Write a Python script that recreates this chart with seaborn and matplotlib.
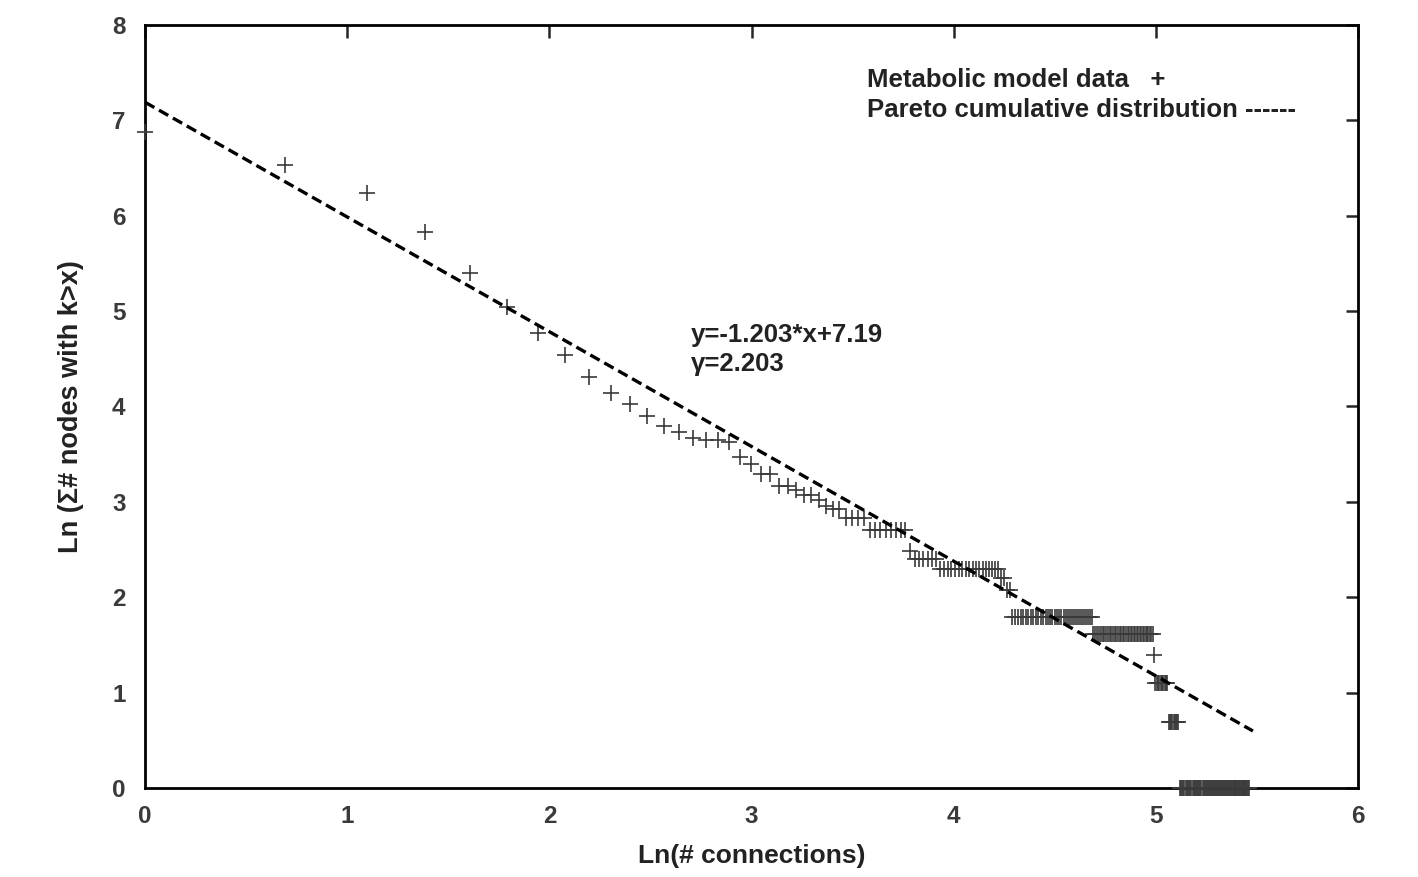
import numpy as np
import pandas as pd
import matplotlib
matplotlib.use("Agg")
import matplotlib.pyplot as plt
import seaborn as sns

# ---- data ----
# runs of integer degrees k (first..last) and the Ln(cumulative node count) at that run
run_first_k = [1, 2, 3, 4, 5, 6, 7, 8, 9, 10, 11, 12, 13, 14, 15, 16, 17, 18, 19, 20,
               21, 22, 23, 24, 25, 26, 27, 28, 29, 30, 32, 36, 44, 45, 51, 69, 71, 73,
               109, 147, 148, 158, 167]
run_last_k = [1, 2, 3, 4, 5, 6, 7, 8, 9, 10, 11, 12, 13, 14, 15, 16, 17, 18, 19, 20,
              21, 22, 23, 24, 25, 26, 27, 28, 29, 31, 35, 43, 44, 50, 68, 70, 72, 108,
              146, 147, 157, 166, 235]
run_ln_count = [6.88, 6.53, 6.24, 5.83, 5.40, 5.04, 4.77, 4.54, 4.31, 4.14, 4.03, 3.90,
                3.80, 3.73, 3.67, 3.65, 3.65, 3.63, 3.47, 3.40, 3.29, 3.29, 3.17, 3.17,
                3.12, 3.07, 3.07, 3.02, 2.96, 2.93, 2.83, 2.71, 2.48, 2.40, 2.30, 2.20,
                2.08, 1.79, 1.61, 1.39, 1.10, 0.69, 0.00]

fit_slope = -1.203
fit_intercept = 7.19
fit_x_range = [0.0, 5.48]

x_ticks = [0, 1, 2, 3, 4, 5, 6]
y_ticks = [0, 1, 2, 3, 4, 5, 6, 7, 8]

# ---- build table ----
rows = []
for k0, k1, yv in zip(run_first_k, run_last_k, run_ln_count):
    for k in range(k0, k1 + 1):
        rows.append({"ln_k": np.log(k), "ln_n": yv})
df = pd.DataFrame(rows)
fit_df = pd.DataFrame({"x": fit_x_range,
                       "y": [fit_slope * v + fit_intercept for v in fit_x_range]})

sns.set_style("white")
plt.rcParams['font.family'] = ['Liberation Sans', 'DejaVu Sans']

fig = plt.figure(figsize=(14.18, 8.77), dpi=100)
ax = fig.add_axes([0.1023, 0.1015, 0.8554, 0.870])

sns.scatterplot(data=df, x="ln_k", y="ln_n", marker="+", s=130, color="#3a3a3a",
                linewidth=1.2, ax=ax, legend=False, zorder=3, clip_on=False)
sns.lineplot(data=fit_df, x="x", y="y", color="black", linewidth=2.4,
             ax=ax, legend=False, zorder=4)
ax.lines[-1].set_dashes([3.2, 1.6])

ax.set_xlim(0, 6)
ax.set_ylim(0, 8)
ax.set_xticks(x_ticks)
ax.set_yticks(y_ticks)
ax.tick_params(direction="in", length=9, width=1.8, top=True, right=True,
               labelsize=17.5, labelcolor="#3a3a3a")
ax.tick_params(axis="x", pad=12)
ax.tick_params(axis="y", pad=14)
for lab in ax.get_xticklabels() + ax.get_yticklabels():
    lab.set_fontweight("bold")
for sp in ax.spines.values():
    sp.set_linewidth(2.0)
    sp.set_color("black")

ax.set_xlabel("Ln(# connections)", fontsize=19, fontweight="bold", color="#222222", labelpad=12)
ax.set_ylabel("Ln (Σ# nodes with k>x)", fontsize=19.5, fontweight="bold", color="#222222", labelpad=20)

ax.text(3.573, 7.42, "Metabolic model data   +", fontsize=18.5, fontweight="bold",
        color="#222222", ha="left", va="center")
ax.text(3.573, 7.11, "Pareto cumulative distribution ------", fontsize=18.5,
        fontweight="bold", color="#222222", ha="left", va="center")
ax.text(2.70, 4.88, "y=-1.203*x+7.19\nγ=2.203", fontsize=18.5, fontweight="bold",
        color="#222222", ha="left", va="top", linespacing=1.3)

fig.savefig("out.png", dpi=100)
